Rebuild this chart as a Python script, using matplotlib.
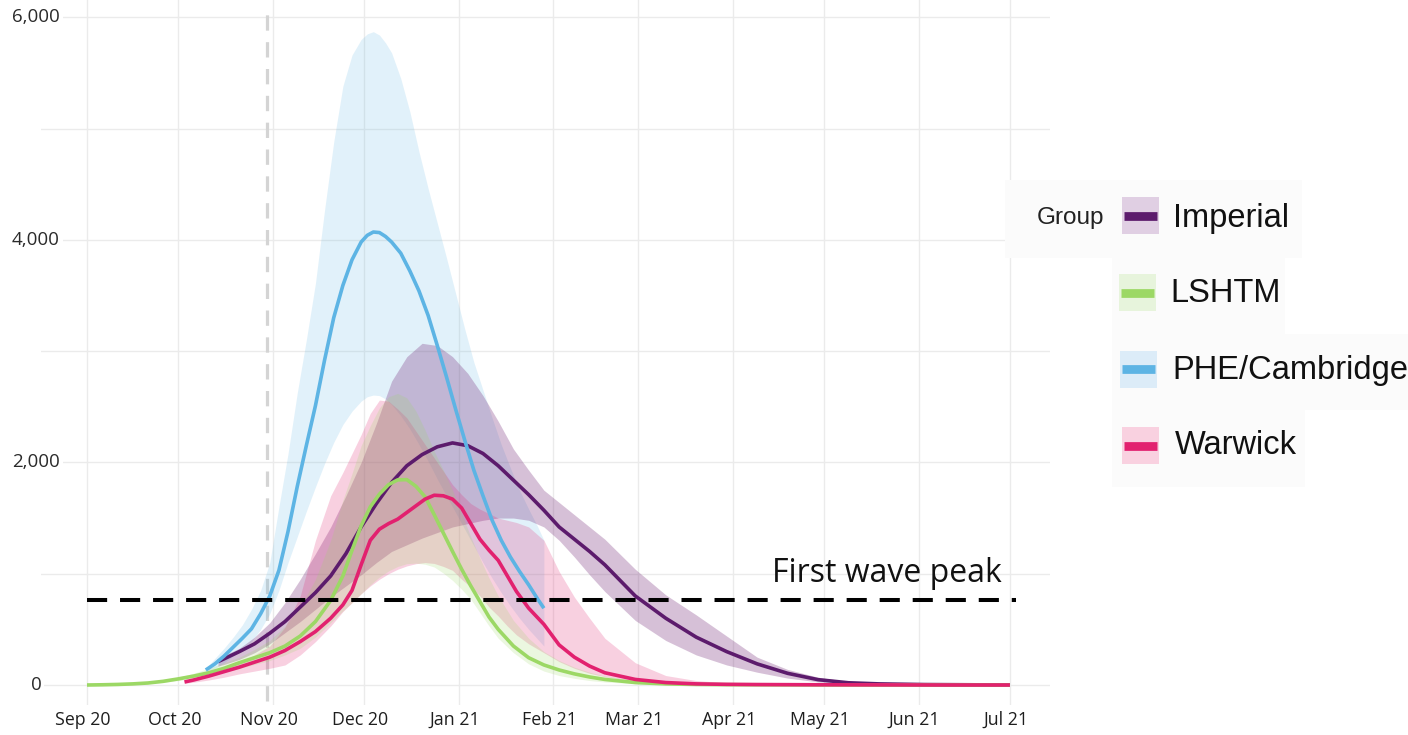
import numpy as np
import pandas as pd
import matplotlib
matplotlib.use("Agg")
import matplotlib.pyplot as plt
from matplotlib.patches import Rectangle
from matplotlib.lines import Line2D
from matplotlib.transforms import blended_transform_factory, ScaledTranslation

# ---------------- data ----------------
groups = ["Imperial", "LSHTM", "PHE/Cambridge", "Warwick"]

imperial_dates = ["2020-10-14", "2020-10-16", "2020-10-21", "2020-10-26", "2020-10-31", "2020-11-05",
                  "2020-11-10", "2020-11-15", "2020-11-20", "2020-11-25", "2020-11-30", "2020-12-05",
                  "2020-12-10", "2020-12-15", "2020-12-20", "2020-12-25", "2020-12-30", "2021-01-04",
                  "2021-01-09", "2021-01-14", "2021-01-19", "2021-01-24", "2021-01-29", "2021-02-03",
                  "2021-02-08", "2021-02-13", "2021-02-18", "2021-02-28", "2021-03-10", "2021-03-20",
                  "2021-03-30", "2021-04-09", "2021-04-19", "2021-04-29", "2021-05-09", "2021-05-19",
                  "2021-06-03", "2021-06-18", "2021-07-01"]
imperial_mid = [210, 235, 300, 370, 465, 570, 700, 830, 980, 1180, 1420, 1630, 1820, 1970, 2070, 2140,
                2175, 2150, 2080, 1970, 1840, 1710, 1570, 1420, 1310, 1200, 1080, 800, 600, 430, 300,
                190, 105, 48, 20, 10, 4, 2, 0]
imperial_lo = [170, 185, 230, 290, 370, 470, 570, 680, 790, 890, 990, 1100, 1200, 1260, 1320, 1370,
               1420, 1450, 1480, 1500, 1500, 1480, 1420, 1300, 1150, 990, 840, 580, 400, 270, 180,
               115, 62, 28, 12, 5, 2, 1, 0]
imperial_hi = [240, 265, 330, 430, 560, 740, 950, 1180, 1420, 1700, 2000, 2350, 2730, 2950, 3070, 3050,
               2950, 2800, 2600, 2370, 2120, 1930, 1750, 1640, 1530, 1420, 1310, 1040, 810, 630, 440,
               250, 140, 70, 30, 14, 5, 2, 0]

lshtm_dates = ["2020-09-01", "2020-09-06", "2020-09-11", "2020-09-16", "2020-09-21", "2020-09-26",
               "2020-10-01", "2020-10-06", "2020-10-11", "2020-10-16", "2020-10-21", "2020-10-26",
               "2020-10-31", "2020-11-05", "2020-11-10", "2020-11-15", "2020-11-20",
               "2020-11-24", "2020-11-27", "2020-11-30", "2020-12-03", "2020-12-06", "2020-12-09",
               "2020-12-12", "2020-12-15", "2020-12-18", "2020-12-21", "2020-12-24", "2020-12-27",
               "2020-12-30", "2021-01-02", "2021-01-05", "2021-01-08", "2021-01-11", "2021-01-14",
               "2021-01-19", "2021-01-24", "2021-01-29", "2021-02-03", "2021-02-08", "2021-02-13",
               "2021-02-18", "2021-02-28", "2021-03-10", "2021-03-20", "2021-03-30", "2021-04-09",
               "2021-04-29", "2021-05-19", "2021-06-08", "2021-07-01"]
lshtm_mid = [0, 2, 5, 10, 18, 33, 55, 80, 110, 150, 200, 245, 290, 350, 440, 570, 760,
             980, 1210, 1430, 1600, 1715, 1800, 1843, 1845, 1785, 1690, 1530, 1365, 1200, 1040, 890,
             750, 610, 500,
             350, 245, 180, 135, 100, 72, 50,
             22, 10, 5, 3, 2, 1, 0, 0, 0]
lshtm_lo = [0, 1, 3, 7, 13, 24, 40, 60, 85, 115, 150, 185, 220, 270, 330, 430, 560,
            665, 740, 820, 900, 970, 1025, 1065, 1090, 1095, 1085, 1060, 1005, 940, 860, 770,
            650, 530, 420,
            290, 190, 125, 85, 60, 40, 27,
            12, 6, 3, 2, 1, 0, 0, 0, 0]
lshtm_hi = [0, 3, 7, 14, 25, 45, 70, 105, 150, 200, 250, 320, 400, 530, 700, 950, 1300,
            1660, 1900, 2150, 2330, 2490, 2590, 2620, 2580, 2460, 2290, 2100, 1930, 1750, 1540, 1330,
            1140, 960, 800,
            580, 420, 300, 220, 160, 115, 80,
            40, 20, 10, 5, 3, 1, 0, 0, 0]

phe_dates = ["2020-10-10", "2020-10-13", "2020-10-16", "2020-10-19", "2020-10-22", "2020-10-25",
             "2020-10-28", "2020-10-31", "2020-11-03", "2020-11-06", "2020-11-09", "2020-11-12",
             "2020-11-15", "2020-11-18", "2020-11-21", "2020-11-24", "2020-11-27", "2020-11-30",
             "2020-12-02", "2020-12-04", "2020-12-06", "2020-12-08", "2020-12-10", "2020-12-13",
             "2020-12-16", "2020-12-19", "2020-12-22", "2020-12-25", "2020-12-28", "2020-12-31",
             "2021-01-03", "2021-01-06", "2021-01-09", "2021-01-12", "2021-01-15", "2021-01-18",
             "2021-01-21", "2021-01-24", "2021-01-27", "2021-01-29"]
phe_mid = [135, 190, 260, 340, 420, 505, 640, 800, 1030, 1380, 1780, 2150, 2510, 2920, 3300, 3590,
           3820, 3980, 4040, 4070, 4065, 4030, 3980, 3880, 3720, 3540, 3320, 3050, 2770, 2480,
           2200, 1930, 1700, 1480, 1300, 1150, 1020, 900, 770, 690]
phe_lo = [110, 150, 200, 260, 320, 390, 500, 640, 850, 1100, 1330, 1560, 1780, 1990, 2180, 2340,
          2460, 2550, 2590, 2605, 2600, 2570, 2520, 2420, 2300, 2160, 2010, 1850, 1700, 1550,
          1400, 1250, 1100, 960, 830, 710, 600, 500, 410, 350]
phe_hi = [150, 240, 330, 430, 540, 680, 850, 1100, 1600, 2080, 2620, 3100, 3610, 4270, 4880, 5380,
          5660, 5800, 5850, 5870, 5840, 5770, 5680, 5450, 5150, 4790, 4460, 4150, 3840, 3520,
          3200, 2900, 2650, 2400, 2160, 1950, 1750, 1580, 1420, 1300]

warwick_dates = ["2020-10-03", "2020-10-06", "2020-10-11", "2020-10-16", "2020-10-21", "2020-10-26",
                 "2020-10-31", "2020-11-05", "2020-11-10", "2020-11-15", "2020-11-20",
                 "2020-11-24", "2020-11-27", "2020-11-30", "2020-12-03", "2020-12-06", "2020-12-09",
                 "2020-12-12", "2020-12-15", "2020-12-18", "2020-12-21", "2020-12-24", "2020-12-27",
                 "2020-12-30", "2021-01-02", "2021-01-05", "2021-01-08", "2021-01-11", "2021-01-14",
                 "2021-01-17", "2021-01-20", "2021-01-24", "2021-01-29", "2021-02-03", "2021-02-08",
                 "2021-02-13", "2021-02-18", "2021-02-28", "2021-03-10", "2021-03-20", "2021-03-30",
                 "2021-04-09", "2021-04-29", "2021-05-19", "2021-06-08", "2021-07-01"]
warwick_mid = [27, 45, 80, 120, 160, 205, 250, 310, 390, 480, 600,
               720, 850, 1080, 1300, 1400, 1450, 1490, 1550, 1610, 1670, 1705, 1700, 1670, 1590,
               1450, 1310, 1210, 1120, 980,
               840, 690, 545, 360, 250, 170, 110,
               50, 22, 10, 6, 4, 2, 1, 0, 0]
warwick_lo = [15, 25, 45, 70, 100, 125, 150, 180, 270, 390, 530,
              660, 740, 820, 890, 950, 1000, 1040, 1070, 1090, 1100, 1092, 1065, 1030, 950,
              880, 800, 700, 620, 530,
              450, 370, 290, 210, 150, 105, 75,
              35, 15, 7, 4, 2, 1, 0, 0, 0]
warwick_hi = [40, 60, 100, 150, 200, 270, 350, 520, 800, 1300, 1700,
              1910, 2080, 2250, 2440, 2560, 2550, 2480, 2400, 2280, 2160, 2040, 1920, 1800, 1710,
              1630, 1580, 1540, 1500, 1480,
              1460, 1420, 1300, 1020, 790, 600, 420,
              200, 85, 40, 20, 10, 4, 2, 1, 0]

first_wave_peak = 765
marker_date = "2020-10-30"

tick_dates = ["2020-09-01", "2020-10-01", "2020-11-01", "2020-12-01", "2021-01-01", "2021-02-01",
              "2021-03-01", "2021-04-01", "2021-05-01", "2021-06-01", "2021-07-01"]
tick_labels = ["Sep 20", "Oct 20", "Nov 20", "Dec 20", "Jan 21", "Feb 21", "Mar 21", "Apr 21",
               "May 21", "Jun 21", "Jul 21"]
y_ticks = [0, 2000, 4000, 6000]
y_tick_labels = ["0", "2,000", "4,000", "6,000"]
y_grid = [0, 1000, 2000, 3000, 4000, 5000, 6000]

# ---------------- styling ----------------
colors = {"Imperial": "#5c1b6c", "LSHTM": "#9cd865", "PHE/Cambridge": "#5db4e4", "Warwick": "#e2216f"}
band_colors = {"Imperial": "#6e1f72", "LSHTM": "#9cd865", "PHE/Cambridge": "#5db4e4", "Warwick": "#e2216f"}
band_alpha = {"Imperial": 0.28, "LSHTM": 0.2, "PHE/Cambridge": 0.18, "Warwick": 0.21}
legend_box = {"Imperial": "#e0cfe3", "LSHTM": "#e7f4dc", "PHE/Cambridge": "#dcecf8", "Warwick": "#f9d1e0"}
band_order = ["PHE/Cambridge", "Imperial", "Warwick", "LSHTM"]

series = {
    "Imperial": (imperial_dates, imperial_mid, imperial_lo, imperial_hi),
    "LSHTM": (lshtm_dates, lshtm_mid, lshtm_lo, lshtm_hi),
    "PHE/Cambridge": (phe_dates, phe_mid, phe_lo, phe_hi),
    "Warwick": (warwick_dates, warwick_mid, warwick_lo, warwick_hi),
}

W, H = 1408, 735
fig = plt.figure(figsize=(W / 100, H / 100), dpi=100)
fig.patch.set_facecolor("white")


def fx(px):
    return px / W


def fy(py):
    return 1 - py / H


ax_left, ax_right, ax_top, ax_bottom = 41, 1050, 0, 705
ax = fig.add_axes([fx(ax_left), fy(ax_bottom), fx(ax_right - ax_left), (ax_bottom - ax_top) / H])

origin = pd.Timestamp("2020-09-01")
px_per_day = 3.046
ax.set_xlim(origin + pd.Timedelta(days=(ax_left - 87) / px_per_day),
            origin + pd.Timedelta(days=(ax_right - 87) / px_per_day))
ax.set_ylim((685 - ax_bottom) / 0.1113, (685 - ax_top) / 0.1113)

for s in ax.spines.values():
    s.set_visible(False)

grid_color = "#ebebeb"
for d in tick_dates:
    ax.axvline(pd.Timestamp(d), color=grid_color, lw=1.0, zorder=0)
for v in y_grid:
    ax.axhline(v, color=grid_color, lw=1.0, zorder=0)

# grey marker line
md = pd.Timestamp(marker_date)
ax.plot([md, md], [-140, 6060], color="#d4d4d4", lw=2.3, linestyle=(0, (4.8, 3.6)), zorder=1)

# bands
for g in band_order:
    d, mid, lo, hi = series[g]
    ax.fill_between(pd.to_datetime(d), lo, hi, color=band_colors[g], alpha=band_alpha[g], lw=0, zorder=2)

# lines
for g in groups:
    d, mid, lo, hi = series[g]
    ax.plot(pd.to_datetime(d), mid, color=colors[g], lw=2.6, solid_capstyle="butt",
            solid_joinstyle="round", zorder=3)

# first wave peak
ax.plot([pd.Timestamp("2020-09-01"), pd.Timestamp("2021-07-03")], [first_wave_peak, first_wave_peak],
        color="black", lw=2.9, linestyle=(0, (5.0, 3.2)), zorder=4)
ax.text(pd.Timestamp("2021-04-14"), 925, "First wave peak", fontsize=23, family="Open Sans",
        ha="left", va="baseline", color="#111111", zorder=5)

ax.set_xticks(pd.to_datetime(tick_dates))
ax.set_xticklabels(tick_labels, fontsize=12.8, family="Open Sans", color="#1e1e1e")
ax.tick_params(axis="x", length=0, pad=4)
shift = ScaledTranslation(-4 / 100, 0, fig.dpi_scale_trans)
for lab in ax.get_xticklabels():
    lab.set_transform(lab.get_transform() + shift)
ax.set_yticks([])

ytrans = blended_transform_factory(fig.transFigure, ax.transData)
for v, lab in zip(y_ticks, y_tick_labels):
    ax.text(fx(36), v, lab, transform=ytrans, fontsize=13.5, family="Open Sans", color="#2a2a2a",
            ha="center", va="center", zorder=6,
            bbox=dict(boxstyle="square,pad=0.15", fc="white", ec="none"))

# legend (manual, figure coordinates)
rows = [
    ("Imperial", (1005, 180, 1302, 258), (1122, 197), (1173, 218)),
    ("LSHTM", (1112, 258, 1285, 334), (1119, 274), (1170, 293)),
    ("PHE/Cambridge", (1112, 334, 1408, 410), (1120, 351), (1172, 370)),
    ("Warwick", (1112, 410, 1305, 487), (1122, 427), (1175, 446)),
]
for g, (bx0, by0, bx1, by1), (kx, ky), (tx, ty) in rows:
    fig.add_artist(Rectangle((fx(bx0), fy(by1)), fx(bx1 - bx0), (by1 - by0) / H,
                             transform=fig.transFigure, facecolor="#fbfbfb", edgecolor="none", zorder=5))
    fig.add_artist(Rectangle((fx(kx), fy(ky + 37)), fx(37), 37 / H, transform=fig.transFigure,
                             facecolor=legend_box[g], edgecolor="none", zorder=6))
    fig.add_artist(Line2D([fx(kx + 2), fx(kx + 35)], [fy(ky + 18.5), fy(ky + 18.5)],
                          transform=fig.transFigure, color=colors[g], lw=6.3, solid_capstyle="butt",
                          zorder=7))
    fig.text(fx(tx), fy(ty), g, fontsize=23.5, family="Liberation Sans", color="#111111",
             ha="left", va="center", zorder=8)

fig.text(fx(1037), fy(218), "Group", fontsize=17.5, family="Liberation Sans", color="#222222",
         ha="left", va="center", zorder=8)

fig.savefig("out.png", dpi=100, facecolor="white")
